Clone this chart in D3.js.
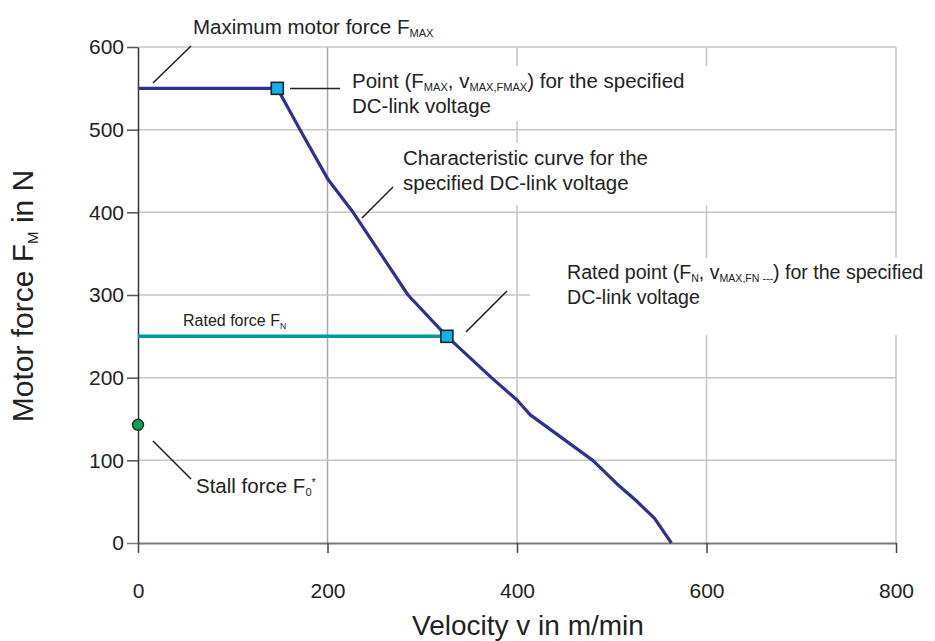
<!DOCTYPE html>
<html>
<head>
<meta charset="utf-8">
<script src="https://cdn.jsdelivr.net/npm/d3@7/dist/d3.min.js"></script>
<style>
  html, body { margin: 0; padding: 0; background: #fff; }
  svg { display: block; font-family: "Liberation Sans", Arial, Helvetica, sans-serif; }
</style>
</head>
<body>
<svg id="chart" width="935" height="641"></svg>
<script>
// Force/velocity characteristic of a linear motor
const xTicks = [0, 200, 400, 600, 800];
const yTicks = [0, 100, 200, 300, 400, 500, 600];

// Maximum motor force F_MAX and the corner point (F_MAX, v_MAX,FMAX)
const fMax = 550;
const vMaxFMax = 147;

// Characteristic curve for the specified DC-link voltage (v in m/min, F in N)
const curveV = [147, 171, 201, 227, 256, 285, 326, 373, 400, 414, 480, 505, 525, 545, 563];
const curveF = [550, 500, 439, 400, 350, 300, 250, 200, 173, 155, 100, 72, 52, 30, 0];

// Rated point (F_N, v_MAX,FN)
const fRated = 250;
const vRated = 326;

// Stall force F0*
const fStall = 143;

const svg = d3.select("#chart");
const x = d3.scaleLinear().domain([0, 800]).range([138, 896]);
const y = d3.scaleLinear().domain([0, 600]).range([543, 47]);

const gridColor = "#c3c6cb";

// vertical grid
svg.append("g").selectAll("line").data(xTicks.filter(d => d > 0)).join("line")
  .attr("x1", d => x(d)).attr("x2", d => x(d))
  .attr("y1", y(600)).attr("y2", y(0))
  .attr("stroke", d => d === 200 ? "#a3a9b2" : gridColor).attr("stroke-width", 1.5);

// gap in the 600 gridline between the two upper callouts
svg.append("rect").attr("x", 690).attr("y", 118).attr("width", 40).attr("height", 30).attr("fill", "#fff");

// horizontal grid
svg.append("g").selectAll("line").data(yTicks.filter(d => d > 0)).join("line")
  .attr("x1", x(0)).attr("x2", x(800))
  .attr("y1", d => y(d)).attr("y2", d => y(d))
  .attr("stroke", gridColor).attr("stroke-width", 1.5);

// white text frames of the callouts, covering the grid behind them
const frames = [
  [346, 66, 384, 55],
  [398, 143, 332, 62],
  [530, 258, 405, 77]
];
svg.append("g").selectAll("rect").data(frames).join("rect")
  .attr("x", d => d[0]).attr("y", d => d[1]).attr("width", d => d[2]).attr("height", d => d[3])
  .attr("fill", "#fff");

// callout texts
const fs = 20.5;
function label(g, xPos, yPos, lines, size) {
  const t = g.append("text").attr("x", xPos).attr("y", yPos)
    .attr("font-size", size).attr("fill", "#222");
  lines.forEach((parts, i) => {
    parts.forEach((p, j) => {
      const ts = t.append("tspan").text(p.t);
      if (j === 0) ts.attr("x", xPos).attr("y", yPos + i * 25);
      if (p.sub) ts.attr("font-size", size * 0.54).attr("baseline-shift", "-30%");
      if (p.sup) ts.attr("font-size", size * 0.54).attr("baseline-shift", "65%");
    });
  });
  return t;
}

const annoLayer = svg.append("g");
const annotations = [
  { x: 193, y: 34, size: fs, lines: [[{t: "Maximum motor force F"}, {t: "MAX", sub: true}]] },
  { x: 352, y: 88, size: fs, lines: [
      [{t: "Point (F"}, {t: "MAX", sub: true}, {t: ", v"}, {t: "MAX,FMAX", sub: true}, {t: ") for the specified"}],
      [{t: "DC-link voltage"}]] },
  { x: 403, y: 165, size: fs, lines: [
      [{t: "Characteristic curve for the"}],
      [{t: "specified DC-link voltage"}]] },
  { x: 567, y: 279, size: 19.6, lines: [
      [{t: "Rated point (F"}, {t: "N", sub: true}, {t: ", v"}, {t: "MAX,FN ---", sub: true}, {t: ") for the specified"}],
      [{t: "DC-link voltage"}]] },
  { x: 183, y: 326, size: 16, lines: [[{t: "Rated force F"}, {t: "N", sub: true}]] },
  { x: 196, y: 493, size: fs, lines: [[{t: "Stall force F"}, {t: "0", sub: true}, {t: "*", sup: true}]] }
];
annotations.forEach(a => label(annoLayer.append("g"), a.x, a.y, a.lines, a.size));

// leader lines
const leaders = [
  [153, 83, 191, 46],
  [290, 88.5, 340, 88.5],
  [362, 218, 393, 187],
  [466, 332, 507, 291],
  [153, 441, 191, 479]
];
svg.append("g").selectAll("line").data(leaders).join("line")
  .attr("x1", d => d[0]).attr("y1", d => d[1]).attr("x2", d => d[2]).attr("y2", d => d[3])
  .attr("stroke", "#222").attr("stroke-width", 1.6);

// axes
const xAxis = svg.append("g").attr("transform", `translate(0,${y(0)})`)
  .call(d3.axisBottom(x).tickValues(xTicks).tickSizeInner(10).tickSizeOuter(0).tickPadding(30));
xAxis.select(".domain").attr("stroke", "#7a7a7a").attr("stroke-width", 2.2);
xAxis.selectAll(".tick line").attr("stroke", "#444").attr("stroke-width", 1.5);
xAxis.selectAll(".tick text").attr("font-size", 21).attr("fill", "#222")
  .attr("font-family", "Liberation Sans, Arial, sans-serif");

const yAxis = svg.append("g").attr("transform", `translate(${x(0)},0)`)
  .call(d3.axisLeft(y).tickValues(yTicks).tickSizeInner(11).tickSizeOuter(0).tickPadding(3));
yAxis.select(".domain").attr("stroke", "#333").attr("stroke-width", 1.5);
yAxis.selectAll(".tick line").attr("stroke", "#555").attr("stroke-width", 1.5);
yAxis.selectAll(".tick text").attr("font-size", 21).attr("fill", "#222")
  .attr("font-family", "Liberation Sans, Arial, sans-serif");
yAxis.selectAll(".tick").filter(d => d === 0).select("line").attr("stroke", "#7a7a7a");

// axis titles
svg.append("text").attr("x", 528).attr("y", 635).attr("text-anchor", "middle")
  .attr("font-size", 28).attr("fill", "#222").text("Velocity v in m/min");
const yt = svg.append("text").attr("transform", "translate(33,296) rotate(-90)")
  .attr("text-anchor", "middle").attr("font-size", 30).attr("fill", "#222");
yt.append("tspan").text("Motor force F");
yt.append("tspan").text("M").attr("font-size", 15).attr("baseline-shift", "-30%");
yt.append("tspan").text(" in N");

// rated force line
svg.append("line")
  .attr("x1", x(0)).attr("x2", x(vRated)).attr("y1", y(fRated)).attr("y2", y(fRated))
  .attr("stroke", "#00989b").attr("stroke-width", 3.5);

// maximum force line and characteristic curve
const lineGen = d3.line().x(d => x(d[0])).y(d => y(d[1]));
const curvePts = [[0, fMax]].concat(curveV.map((v, i) => [v, curveF[i]]));
svg.append("path").datum(curvePts)
  .attr("d", lineGen)
  .attr("fill", "none").attr("stroke", "#2d3192").attr("stroke-width", 3.2)
  .attr("stroke-linejoin", "round");

// marked points
const squares = [[vMaxFMax, fMax], [vRated, fRated]];
svg.append("g").selectAll("rect").data(squares).join("rect")
  .attr("x", d => x(d[0]) - 6).attr("y", d => y(d[1]) - 6)
  .attr("width", 12).attr("height", 12)
  .attr("fill", "#0fb2ea").attr("stroke", "#222").attr("stroke-width", 1.6);

svg.append("circle").attr("cx", x(0)).attr("cy", y(fStall)).attr("r", 5.5)
  .attr("fill", "#00a94f").attr("stroke", "#222").attr("stroke-width", 1.4);
</script>
</body>
</html>
